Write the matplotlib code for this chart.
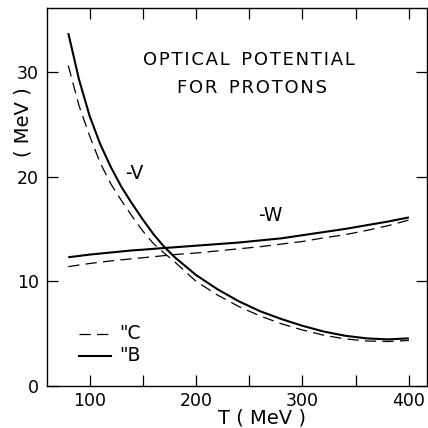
import matplotlib
matplotlib.use("Agg")
import matplotlib.pyplot as plt
from matplotlib.ticker import FixedLocator, NullFormatter

# ---- data ----
T = [80, 90, 100, 110, 120, 130, 140, 150, 160, 170, 180, 200, 220, 240, 260,
     280, 300, 320, 340, 360, 380, 400]
V_B = [33.7, 29.3, 25.8, 23.1, 20.9, 19.0, 17.4, 15.9, 14.5, 13.3, 12.3, 10.6,
       9.25, 8.1, 7.15, 6.4, 5.75, 5.2, 4.8, 4.55, 4.45, 4.55]
V_C = [30.6, 26.8, 23.9, 21.3, 19.3, 17.7, 16.2, 14.8, 13.6, 12.7, 11.85, 10.0,
       8.7, 7.6, 6.7, 5.95, 5.35, 4.85, 4.5, 4.3, 4.25, 4.35]
W_B = [12.3, 12.42, 12.55, 12.65, 12.75, 12.85, 12.95, 13.02, 13.1, 13.18, 13.25,
       13.4, 13.55, 13.7, 13.9, 14.1, 14.4, 14.7, 15.0, 15.35, 15.7, 16.1]
W_C = [11.4, 11.55, 11.7, 11.82, 11.95, 12.05, 12.15, 12.25, 12.35, 12.45, 12.55,
       12.7, 12.9, 13.1, 13.3, 13.55, 13.8, 14.15, 14.45, 14.85, 15.3, 15.85]
x_labels = [100, 200, 300, 400]
x_minor = [150, 250, 350]
y_ticks = [0, 10, 20, 30]
title1 = "OPTICAL POTENTIAL"
title2 = "FOR PROTONS"

FONT = ["DejaVu Sans"]
TXT = dict(family=FONT, color="black")
HS = "\u200a"


def spaced(s):
    return "  ".join(HS.join(w) for w in s.split(" "))


fig = plt.figure(figsize=(4.28, 4.28), dpi=100)
ax = fig.add_axes([47 / 428, 42 / 428, 380 / 428, 378 / 428])

ax.plot(T, V_B, color="black", lw=1.5, solid_capstyle="butt")
ax.plot(T, V_C, color="black", lw=0.9, dashes=(9, 5))
ax.plot(T, W_B, color="black", lw=1.5, solid_capstyle="butt")
ax.plot(T, W_C, color="black", lw=0.9, dashes=(9, 5))

ax.set_xlim(60, 417)
ax.set_ylim(0, 36.1)

ax.xaxis.set_major_locator(FixedLocator(x_labels))
ax.xaxis.set_minor_locator(FixedLocator(x_minor))
ax.xaxis.set_minor_formatter(NullFormatter())
ax.yaxis.set_major_locator(FixedLocator(y_ticks))
ax.tick_params(axis="both", which="both", direction="in", length=8, width=0.9,
               top=True, right=True, labelsize=12.5, colors="black")
ax.tick_params(axis="x", which="both", pad=4)
ax.tick_params(axis="y", which="both", pad=6)
for lab in ax.get_xticklabels() + ax.get_yticklabels():
    lab.set_family(FONT)

for s in ax.spines.values():
    s.set_linewidth(1.0)

ax.set_xlabel("T ( MeV )", fontsize=14, **TXT)
ax.xaxis.set_label_coords((262 - 47) / 380, -(408 - 386) / 378, transform=ax.transAxes)
ax.set_ylabel("( MeV )", fontsize=14, **TXT)
ax.yaxis.set_label_coords(-(47 - 33) / 380, (386 - 122) / 378, transform=ax.transAxes)

ax.text(250, 31.1, spaced(title1), ha="center", va="center",
        fontsize=13, **TXT)
ax.text(253, 28.5, spaced(title2), ha="center", va="center",
        fontsize=13, **TXT)
ax.text(142, 20.3, "-V", ha="center", va="center", fontsize=13.5, **TXT)
ax.text(270, 16.3, "-W", ha="center", va="center", fontsize=13.5, **TXT)

# legend
ax.plot([90, 120], [5.0, 5.0], color="black", lw=0.9, dashes=(9, 5))
ax.plot([90, 120], [2.9, 2.9], color="black", lw=1.5)
ax.text(128, 5.0, '"C', ha="left", va="center", fontsize=13.5, **TXT)
ax.text(128, 2.9, '"B', ha="left", va="center", fontsize=13.5, **TXT)

fig.savefig("out.png", dpi=100)
